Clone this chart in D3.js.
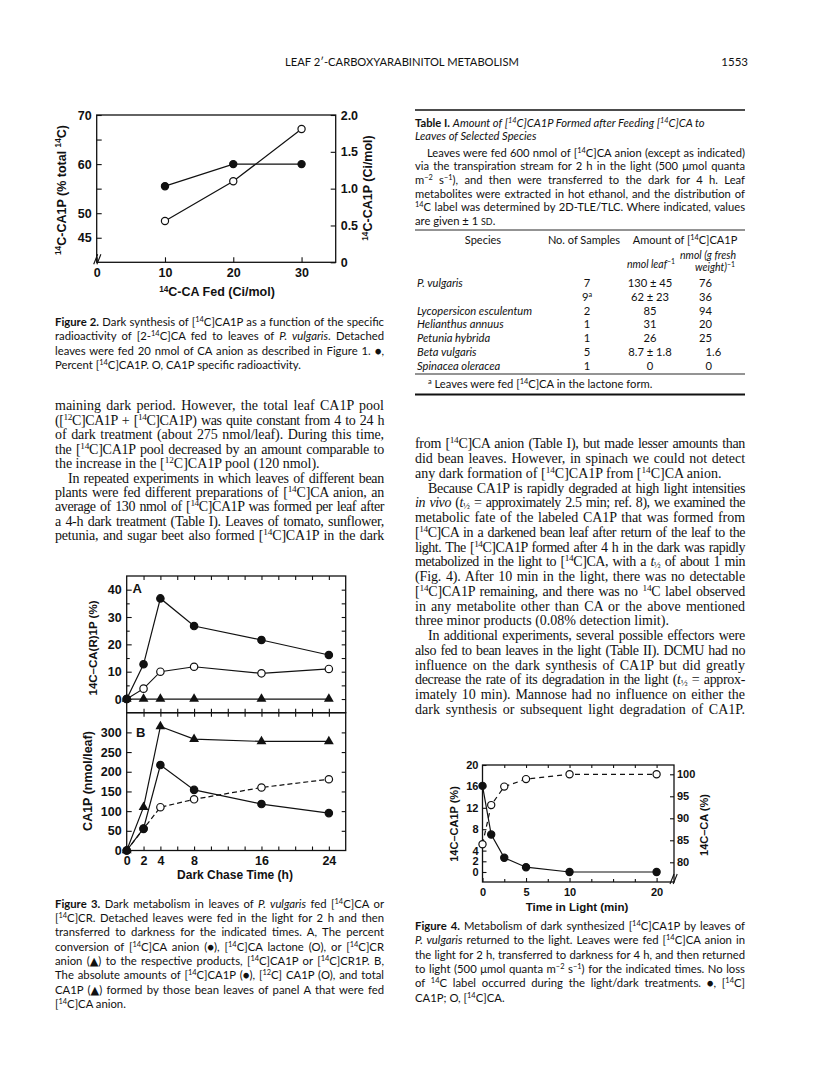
<!DOCTYPE html>
<html><head><meta charset="utf-8">
<script src="https://cdn.jsdelivr.net/npm/d3@7"></script>
<style>body{margin:0;background:#fff}svg{display:block}</style>
</head><body>
<svg id="page" width="816" height="1073"></svg>
<script>
// ---------------- DATA ----------------
// Figure 2
const fig2Fed = [10, 20, 30];
const fig2PercentCA1P = [55.5, 60, 60];
const fig2SpecificActivity = [0.56, 1.10, 1.81];
const fig2XTicks = [0, 10, 20, 30];
const fig2LeftTicks = [45, 50, 55, 60, 65, 70];
const fig2LeftLabels = [45, 50, 60, 70];
const fig2RightTicks = [0, 0.5, 1.0, 1.5, 2.0];

// Figure 3
const fig3Hours = [0, 2, 4, 8, 16, 24];
const fig3A_CAanion = [0, 12.7, 36.8, 26.7, 21.6, 16.1];
const fig3A_CAlactone = [0, 3.8, 10.0, 11.8, 9.4, 11.0];
const fig3A_CRanion = [0, 0, 0, 0, 0, 0];
const fig3B_C14 = [0, 56, 217, 154, 118, 95];
const fig3B_C12 = [0, 55, 110, 130, 160, 181];
const fig3B_Total = [0, 110, 315, 283, 277, 277];
const fig3ATicks = [0, 10, 20, 30, 40];
const fig3BTicks = [0, 50, 100, 150, 200, 250, 300];

// Figure 4
const fig4Time = [0, 1, 2.5, 5, 10, 20];
const fig4CA1P = [16.1, 7.0, 2.65, 0.9, 0, 0];
const fig4CA = [84.1, 93.0, 97.2, 98.9, 100, 100];
const fig4LeftTicks = [0, 2, 4, 8, 12, 16, 20];
const fig4RightTicks = [80, 85, 90, 95, 100];
const fig4XTicks = [0, 5, 10, 20];

// Table I
const tableSpecies = ["P. vulgaris", "", "Lycopersicon esculentum", "Helianthus annuus", "Petunia hybrida", "Beta vulgaris", "Spinacea oleracea"];
const tableSamples = ["7", "9<sup>a</sup>", "2", "1", "1", "5", "1"];
const tableNmolLeaf = ["130 ± 45", "62 ± 23", "85", "31", "26", "8.7 ± 1.8", "0"];
const tableNmolGfw = ["76", "36", "94", "20", "25", "1.6", "0"];

// Texts
const headerTitle = "LEAF 2′-CARBOXYARABINITOL METABOLISM";
const pageNumber = "1553";
const fig2Caption = [
 "<b>Figure 2.</b> Dark synthesis of [<sup>14</sup>C]CA1P as a function of the specific",
 "radioactivity of [2-<sup>14</sup>C]CA fed to leaves of <i>P. vulgaris</i>. Detached",
 "leaves were fed 20 nmol of CA anion as described in Figure 1. ●,",
 "Percent [<sup>14</sup>C]CA1P. O, CA1P specific radioactivity.¶"
];
const col1Body = [
 "maining dark period. However, the total leaf CA1P pool",
 "([<sup>12</sup>C]CA1P + [<sup>14</sup>C]CA1P) was quite constant from 4 to 24 h",
 "of dark treatment (about 275 nmol/leaf). During this time,",
 "the [<sup>14</sup>C]CA1P pool decreased by an amount comparable to",
 "the increase in the [<sup>12</sup>C]CA1P pool (120 nmol).¶",
 "»In repeated experiments in which leaves of different bean",
 "plants were fed different preparations of [<sup>14</sup>C]CA anion, an",
 "average of 130 nmol of [<sup>14</sup>C]CA1P was formed per leaf after",
 "a 4-h dark treatment (Table I). Leaves of tomato, sunflower,",
 "petunia, and sugar beet also formed [<sup>14</sup>C]CA1P in the dark"
];
const fig3Caption = [
 "<b>Figure 3.</b> Dark metabolism in leaves of <i>P. vulgaris</i> fed [<sup>14</sup>C]CA or",
 "[<sup>14</sup>C]CR. Detached leaves were fed in the light for 2 h and then",
 "transferred to darkness for the indicated times. A, The percent",
 "conversion of [<sup>14</sup>C]CA anion (●), [<sup>14</sup>C]CA lactone (O), or [<sup>14</sup>C]CR",
 "anion (▲) to the respective products, [<sup>14</sup>C]CA1P or [<sup>14</sup>C]CR1P. B,",
 "The absolute amounts of [<sup>14</sup>C]CA1P (●), [<sup>12</sup>C] CA1P (O), and total",
 "CA1P (▲) formed by those bean leaves of panel A that were fed",
 "[<sup>14</sup>C]CA anion.¶"
];
const tableTitle = [
 "<b>Table I.</b> <i>Amount of [<sup>14</sup>C]CA1P Formed after Feeding [<sup>14</sup>C]CA to</i>¶",
 "<i>Leaves of Selected Species</i>¶"
];
const tableNote = [
 "»Leaves were fed 600 nmol of [<sup>14</sup>C]CA anion (except as indicated)",
 "via the transpiration stream for 2 h in the light (500 μmol quanta",
 "m<sup>−2</sup> s<sup>−1</sup>), and then were transferred to the dark for 4 h. Leaf",
 "metabolites were extracted in hot ethanol, and the distribution of",
 "<sup>14</sup>C label was determined by 2D-TLE/TLC. Where indicated, values",
 "are given ± 1 <sc>SD</sc>.¶"
];
const tableFootnote = "<sup>a</sup> Leaves were fed [<sup>14</sup>C]CA in the lactone form.";
const col2Body = [
 "from [<sup>14</sup>C]CA anion (Table I), but made lesser amounts than",
 "did bean leaves. However, in spinach we could not detect",
 "any dark formation of [<sup>14</sup>C]CA1P from [<sup>14</sup>C]CA anion.¶",
 "»Because CA1P is rapidly degraded at high light intensities",
 "<i>in vivo</i> (<i>t</i><sub>½</sub> = approximately 2.5 min; ref. 8), we examined the",
 "metabolic fate of the labeled CA1P that was formed from",
 "[<sup>14</sup>C]CA in a darkened bean leaf after return of the leaf to the",
 "light. The [<sup>14</sup>C]CA1P formed after 4 h in the dark was rapidly",
 "metabolized in the light to [<sup>14</sup>C]CA, with a <i>t</i><sub>½</sub> of about 1 min",
 "(Fig. 4). After 10 min in the light, there was no detectable",
 "[<sup>14</sup>C]CA1P remaining, and there was no <sup>14</sup>C label observed",
 "in any metabolite other than CA or the above mentioned",
 "three minor products (0.08% detection limit).¶",
 "»In additional experiments, several possible effectors were",
 "also fed to bean leaves in the light (Table II). DCMU had no",
 "influence on the dark synthesis of CA1P but did greatly",
 "decrease the rate of its degradation in the light (<i>t</i><sub>½</sub> = approx-",
 "imately 10 min). Mannose had no influence on either the",
 "dark synthesis or subsequent light degradation of CA1P."
];
const fig4Caption = [
 "<b>Figure 4.</b> Metabolism of dark synthesized [<sup>14</sup>C]CA1P by leaves of",
 "<i>P. vulgaris</i> returned to the light. Leaves were fed [<sup>14</sup>C]CA anion in",
 "the light for 2 h, transferred to darkness for 4 h, and then returned",
 "to light (500 μmol quanta m<sup>−2</sup> s<sup>−1</sup>) for the indicated times. No loss",
 "of <sup>14</sup>C label occurred during the light/dark treatments. ●, [<sup>14</sup>C]",
 "CA1P; O, [<sup>14</sup>C]CA.¶"
];

// ---------------- RENDER ----------------
const svg = d3.select('#page');
const SERIF = "'Liberation Serif', 'DejaVu Serif', serif";
const SANS = "Lato, 'Open Sans', 'DejaVu Sans', sans-serif";
const CH = "'Liberation Sans', Arial, sans-serif";
const INK = '#111';

function rich(parent, str, o) {
  const fs = o.size;
  const t = parent.append('text').attr('x', o.x || 0).attr('y', o.y || 0)
    .attr('font-family', o.family).attr('font-size', fs).attr('fill', INK);
  if (o.weight) t.attr('font-weight', o.weight);
  if (o.anchor) t.attr('text-anchor', o.anchor);
  const parts = str.split(/(<\/?(?:b|i|sup|sub|sc)>)/);
  const st = {b: 0, i: 0, sup: 0, sub: 0, sc: 0};
  let shift = 0;
  parts.forEach(p => {
    if (!p) return;
    const m = p.match(/^<(\/?)(b|i|sup|sub|sc)>$/);
    if (m) { st[m[2]] += m[1] ? -1 : 1; return; }
    const ts = t.append('tspan').text(p);
    let size = fs, want = 0;
    if (st.sup) { size = fs * 0.66; want = -fs * 0.36; }
    else if (st.sub) { size = fs * 0.66; want = fs * 0.12; }
    if (st.sc) size = fs * 0.8;
    if (size !== fs) ts.attr('font-size', size);
    if (st.b) ts.attr('font-weight', 'bold');
    if (st.i) ts.attr('font-style', 'italic');
    if (want !== shift) { ts.attr('dy', want - shift); shift = want; }
  });
  if (o.justify) {
    const nat = t.node().getComputedTextLength();
    const plain = str.replace(/<[^>]+>/g, '');
    const spaces = (plain.match(/ /g) || []).length;
    const minWs = o.minWs != null ? o.minWs : 1.0;
    if (spaces) {
      const ws = (o.justify - nat) / spaces;
      if (ws >= minWs) {
        t.attr('word-spacing', ws);
      } else {
        // keep a visible word gap; tighten letters a little instead
        const ls = (o.justify - nat - spaces * minWs) / plain.length;
        t.attr('word-spacing', minWs).attr('letter-spacing', ls);
      }
    }
  }
  return t;
}

function para(lines, o) {
  lines.forEach((raw, k) => {
    let s = raw, indent = 0, just = true;
    if (s.startsWith('»')) { s = s.slice(1); indent = o.indent; }
    if (s.endsWith('¶')) { s = s.slice(0, -1); just = false; }
    rich(svg, s, {x: o.x + indent, y: o.y0 + k * o.step + o.base, size: o.size,
      family: o.family, minWs: o.minWs, justify: just ? o.width - indent : null});
  });
}

// Header
rich(svg, headerTitle, {x: 402, y: 66, size: 11.2, family: SANS, anchor: 'middle'});
rich(svg, pageNumber, {x: 748, y: 66, size: 11.5, family: SANS, anchor: 'end'});

// Column texts
const C1 = {x: 55, width: 329}, C2 = {x: 415, width: 330};
para(fig2Caption, {...C1, y0: 322, step: 14.5, base: 3.8, size: 11.3, family: SANS, indent: 0, minWs: 0.3});
para(col1Body, {...C1, y0: 406, step: 14.45, base: 4.3, size: 14, family: SERIF, indent: 13, minWs: 1.3});
para(fig3Caption, {...C1, y0: 904, step: 14.3, base: 3.8, size: 11.3, family: SANS, indent: 0, minWs: 0.3});
para(col2Body, {...C2, y0: 444, step: 14.75, base: 4.3, size: 14, family: SERIF, indent: 13, minWs: 1.3});
para(fig4Caption, {...C2, y0: 926, step: 14.4, base: 3.8, size: 11.3, family: SANS, indent: 0, minWs: 0.3});

// Table I
para(tableTitle, {...C2, y0: 123, step: 12.8, base: 3.8, size: 11.2, family: SANS, indent: 0});
para(tableNote, {...C2, y0: 153, step: 13.6, base: 3.8, size: 11.2, family: SANS, indent: 12, minWs: 0.3});
const rule = (y, w) => svg.append('line').attr('x1', 415).attr('x2', 745).attr('y1', y).attr('y2', y)
  .attr('stroke', INK).attr('stroke-width', w);
rule(110, 1.6); rule(230, 0.9); rule(374, 0.9); rule(394.5, 1.8);
rich(svg, 'Species', {x: 483, y: 244, size: 11, family: SANS, anchor: 'middle'});
rich(svg, 'No. of Samples', {x: 584, y: 244, size: 11, family: SANS, anchor: 'middle'});
rich(svg, 'Amount of [<sup>14</sup>C]CA1P', {x: 685, y: 244, size: 11, family: SANS, anchor: 'middle'});
rich(svg, '<i>nmol leaf</i><sup>−1</sup>', {x: 651, y: 267.5, size: 10.5, family: SANS, anchor: 'middle'});
rich(svg, '<i>nmol (g fresh</i>', {x: 708, y: 259, size: 10.5, family: SANS, anchor: 'middle'});
rich(svg, '<i>weight)</i><sup>−1</sup>', {x: 735, y: 271, size: 10.5, family: SANS, anchor: 'end'});
const rowY = d3.scaleLinear().domain([0, 1]).range([287.3, 301.0]);
tableSpecies.forEach((s, i) => {
  const y = rowY(i);
  if (s) rich(svg, '<i>' + s + '</i>', {x: 417, y, size: 11.2, family: SANS});
  rich(svg, tableSamples[i], {x: 587, y, size: 11.2, family: SANS, anchor: 'middle'});
  rich(svg, tableNmolLeaf[i], {x: 650, y, size: 11.2, family: SANS, anchor: 'middle'});
  const v = tableNmolGfw[i], parts = v.split('.');
  rich(svg, parts[0], {x: 712, y, size: 11.2, family: SANS, anchor: 'end'});
  if (parts[1]) rich(svg, '.' + parts[1], {x: 712, y, size: 11.2, family: SANS});
});
rich(svg, tableFootnote, {x: 428, y: 388.3, size: 11.2, family: SANS});

// ---------- chart helpers ----------
function styleAxis(g, size) {
  g.attr('font-family', CH).attr('font-size', size).attr('font-weight', 'bold');
  g.select('.domain').remove();
  g.selectAll('.tick line').attr('stroke', INK).attr('stroke-width', 1.1);
  g.selectAll('.tick text').attr('fill', INK);
}
function frame(g, x0, y0, x1, y1) {
  g.append('rect').attr('x', x0).attr('y', y0).attr('width', x1 - x0).attr('height', y1 - y0)
    .attr('fill', 'none').attr('stroke', INK).attr('stroke-width', 1.3);
}
function series(g, xs, ys, xS, yS, dash) {
  const ln = d3.line().x((d, i) => xS(xs[i])).y(d => yS(d));
  g.append('path').attr('d', ln(ys)).attr('fill', 'none').attr('stroke', INK)
    .attr('stroke-width', 1.2).attr('stroke-dasharray', dash || null);
}
function dots(g, xs, ys, xS, yS, kind, r) {
  ys.forEach((v, i) => {
    const cx = xS(xs[i]), cy = yS(v);
    if (kind === 'tri') {
      g.append('path').attr('d', d3.symbol(d3.symbolTriangle, r)())
        .attr('transform', `translate(${cx},${cy})`).attr('fill', INK);
    } else {
      g.append('circle').attr('cx', cx).attr('cy', cy).attr('r', r)
        .attr('fill', kind === 'open' ? '#fff' : INK).attr('stroke', INK).attr('stroke-width', 1.2);
    }
  });
}
function vtitle(g, str, cx, cy, size, weight) {
  const gg = g.append('g').attr('transform', `translate(${cx},${cy}) rotate(-90)`);
  rich(gg, str, {x: 0, y: 4, size, family: CH, anchor: 'middle', weight: weight || 'bold'});
}
function breakMark(g, x, y) {
  [0, 3.2].forEach(o => g.append('line').attr('x1', x - 3 + o).attr('y1', y + 4)
    .attr('x2', x + 1 + o).attr('y2', y - 6).attr('stroke', INK).attr('stroke-width', 1.1));
}

// ---------- Figure 2 ----------
{
  const g = svg.append('g');
  const x = d3.scaleLinear().domain([0, 35]).range([96.7, 335.7]);
  const yL = d3.scaleLinear().domain([40, 70]).range([262.3, 115]);
  const yR = d3.scaleLinear().domain([0, 2]).range([262.3, 115]);
  frame(g, x(0), yL(70), x(35), yL(40));
  g.append('g').attr('transform', `translate(${x(0)},0)`)
    .call(d3.axisLeft(yL).tickValues(fig2LeftTicks).tickSize(-5).tickPadding(5)
      .tickFormat(d => fig2LeftLabels.includes(d) ? d : '')).call(a => styleAxis(a, 12.5));
  g.append('g').attr('transform', `translate(${x(35)},0)`)
    .call(d3.axisRight(yR).tickValues(fig2RightTicks).tickSize(-5).tickPadding(5)
      .tickFormat(d => d === 0 ? '0' : d3.format('.1f')(d))).call(a => styleAxis(a, 12.5));
  g.append('g').attr('transform', `translate(0,${yL(40)})`)
    .call(d3.axisBottom(x).tickValues(fig2XTicks).tickSize(-5).tickPadding(6)).call(a => styleAxis(a, 12.5));
  breakMark(g, x(0), yL(40) - 2);
  series(g, fig2Fed, fig2PercentCA1P, x, yL);
  series(g, fig2Fed, fig2SpecificActivity, x, yR);
  dots(g, fig2Fed, fig2SpecificActivity, x, yR, 'open', 3.6);
  dots(g, fig2Fed, fig2PercentCA1P, x, yL, 'fill', 3.6);
  vtitle(g, '<sup>14</sup>C-CA1P (% total <sup>14</sup>C)', 61.5, 190, 12.5);
  vtitle(g, '<sup>14</sup>C-CA1P (Ci/mol)', 368, 188, 12.5);
  rich(g, '<sup>14</sup>C-CA Fed (Ci/mol)', {x: 217, y: 296, size: 12.5, family: CH, anchor: 'middle', weight: 'bold'});
}

// ---------- Figure 3 ----------
{
  const g = svg.append('g');
  const x = d3.scaleLinear().domain([0, 26]).range([126.7, 345.7]);
  const yA = d3.scaleLinear().domain([-5, 45]).range([712.7, 576]);
  const yB = d3.scaleLinear().domain([0, 350]).range([850.5, 712.7]);
  frame(g, x(0), yA(45), x(26), yA(-5));
  frame(g, x(0), yB(350), x(26), yB(0));
  const ev = d3.range(2, 26, 2);
  // panel A
  g.append('g').attr('transform', `translate(0,${yA(45)})`)
    .call(d3.axisTop(x).tickValues(ev).tickSize(-4).tickFormat('')).call(a => styleAxis(a, 12));
  g.append('g').attr('transform', `translate(0,${yA(-5)})`)
    .call(d3.axisBottom(x).tickValues(ev).tickSize(-4).tickFormat('')).call(a => styleAxis(a, 12));
  g.append('g').attr('transform', `translate(${x(0)},0)`)
    .call(d3.axisLeft(yA).tickValues(fig3ATicks).tickSize(-5).tickPadding(5)).call(a => styleAxis(a, 12.5));
  g.append('g').attr('transform', `translate(${x(0)},0)`)
    .call(d3.axisLeft(yA).tickValues([5, 15, 25, 35]).tickSize(-3).tickFormat('')).call(a => styleAxis(a, 12));
  g.append('g').attr('transform', `translate(${x(26)},0)`)
    .call(d3.axisRight(yA).tickValues(d3.range(0, 45, 5)).tickSize(-4).tickFormat('')).call(a => styleAxis(a, 12));
  // panel B
  g.append('g').attr('transform', `translate(0,${yB(350)})`)
    .call(d3.axisTop(x).tickValues(ev).tickSize(-4).tickFormat('')).call(a => styleAxis(a, 12));
  g.append('g').attr('transform', `translate(0,${yB(0)})`)
    .call(d3.axisBottom(x).tickValues(ev).tickSize(-4).tickFormat('')).call(a => styleAxis(a, 12));
  g.append('g').attr('transform', `translate(0,${yB(0)})`)
    .call(d3.axisBottom(x).tickValues(fig3Hours).tickSize(0).tickPadding(6)).call(a => styleAxis(a, 12.5));
  g.append('g').attr('transform', `translate(${x(0)},0)`)
    .call(d3.axisLeft(yB).tickValues(fig3BTicks).tickSize(-5).tickPadding(5)).call(a => styleAxis(a, 12.5));
  g.append('g').attr('transform', `translate(${x(26)},0)`)
    .call(d3.axisRight(yB).tickValues(d3.range(50, 350, 50)).tickSize(-4).tickFormat('')).call(a => styleAxis(a, 12));
  // data A
  series(g, fig3Hours, fig3A_CAanion, x, yA);
  series(g, fig3Hours, fig3A_CAlactone, x, yA);
  series(g, fig3Hours, fig3A_CRanion, x, yA);
  dots(g, fig3Hours, fig3A_CRanion, x, yA, 'tri', 42);
  dots(g, fig3Hours, fig3A_CAlactone, x, yA, 'open', 3.7);
  dots(g, fig3Hours, fig3A_CAanion, x, yA, 'fill', 3.7);
  // data B
  series(g, fig3Hours, fig3B_C12, x, yB, '5,3');
  series(g, fig3Hours, fig3B_C14, x, yB);
  series(g, fig3Hours, fig3B_Total, x, yB);
  dots(g, fig3Hours, fig3B_C12, x, yB, 'open', 3.7);
  dots(g, fig3Hours, fig3B_C14, x, yB, 'fill', 3.7);
  dots(g, fig3Hours, fig3B_Total, x, yB, 'tri', 42);
  rich(g, 'A', {x: 132.5, y: 593, size: 13, family: CH, weight: 'bold'});
  rich(g, 'B', {x: 136, y: 736.5, size: 13, family: CH, weight: 'bold'});
  vtitle(g, '14C–CA(R)1P (%)', 92.5, 648, 11.5);
  vtitle(g, 'CA1P (nmol/leaf)', 88, 781, 12.5);
  rich(g, 'Dark Chase Time (h)', {x: 235, y: 879, size: 12, family: CH, anchor: 'middle', weight: 'bold'});
}

// ---------- Figure 4 ----------
{
  const g = svg.append('g');
  const x = d3.scaleLinear().domain([0, 22]).range([482.5, 674]);
  const yL = d3.scaleLinear().domain([-1.87, 20]).range([882, 765]);
  const yR = d3.scaleLinear().domain([75.52, 102.11]).range([882, 765]);
  frame(g, x(0), yL(20), x(22), yL(-1.87));
  g.append('g').attr('transform', `translate(${x(0)},0)`)
    .call(d3.axisLeft(yL).tickValues(fig4LeftTicks).tickSize(-4).tickPadding(4)).call(a => styleAxis(a, 11));
  g.append('g').attr('transform', `translate(${x(22)},0)`)
    .call(d3.axisRight(yR).tickValues(fig4RightTicks).tickSize(-4).tickPadding(3)).call(a => styleAxis(a, 11));
  g.append('g').attr('transform', `translate(0,${yL(-1.87)})`)
    .call(d3.axisBottom(x).tickValues(fig4XTicks).tickSize(-4).tickPadding(6)).call(a => styleAxis(a, 11));
  g.append('g').attr('transform', `translate(0,${yL(-1.87)})`)
    .call(d3.axisBottom(x).tickValues([2.5, 7.5, 12.5, 15, 17.5]).tickSize(-3).tickFormat('')).call(a => styleAxis(a, 11));
  g.append('g').attr('transform', `translate(0,${yL(20)})`)
    .call(d3.axisTop(x).tickValues(d3.range(2.5, 22, 2.5)).tickSize(-3).tickFormat('')).call(a => styleAxis(a, 11));
  breakMark(g, x(22) - 1, yL(-1.87) - 2);
  series(g, fig4Time, fig4CA, x, yR, '5,4');
  series(g, fig4Time, fig4CA1P, x, yL);
  dots(g, fig4Time, fig4CA, x, yR, 'open', 3.6);
  dots(g, fig4Time, fig4CA1P, x, yL, 'fill', 3.6);
  vtitle(g, '14C–CA1P (%)', 453.5, 824, 11);
  vtitle(g, '14C–CA (%)', 703.5, 825, 11);
  rich(g, 'Time in Light (min)', {x: 577, y: 911, size: 11.5, family: CH, anchor: 'middle', weight: 'bold'});
}
</script>
</body></html>
